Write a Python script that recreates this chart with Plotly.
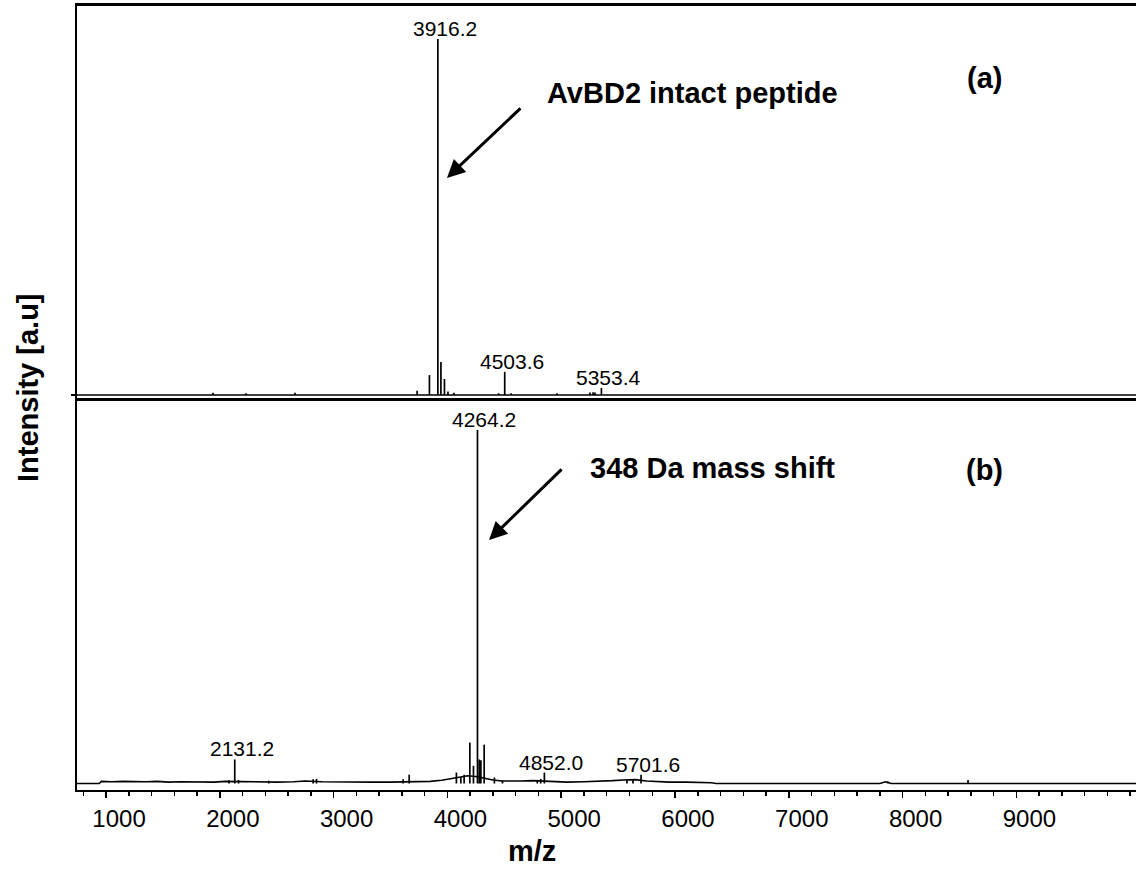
import plotly.graph_objects as go
from plotly.subplots import make_subplots

# ---------------- data ----------------
mz_range = [745, 10051]

# (a) AvBD2 intact peptide spectrum: peak list (m/z, relative intensity)
top_peak_mz = [1940, 2230, 2661, 3734, 3842, 3916.2, 3943, 3974, 4005, 4057,
               4450, 4503.6, 4560, 4963, 5253, 5280, 5297, 5353.4]
top_peak_int = [0.6, 0.5, 0.6, 1.2, 5.6, 100, 9.3, 4.5, 1.0, 0.6,
                0.5, 6.5, 0.5, 0.5, 0.7, 0.8, 0.7, 2.0]
top_base_mz = [745, 10051]
top_base_int = [0.0, 0.0]
top_labels = [3916.2, 4503.6, 5353.4]

# (b) modified peptide spectrum (348 Da shift)
bot_peak_mz = [2080, 2131.2, 2165, 2430, 2820, 2850, 3611, 3664, 4079, 4118,
               4147, 4197, 4229, 4264.2, 4279, 4294, 4323, 4413, 4484, 4790,
               4820, 4852.0, 5578, 5631, 5701.6, 7870, 8575]
bot_peak_int = [0.9, 6.8, 1.0, 0.8, 1.2, 1.3, 1.2, 2.5, 3.1, 1.8,
                2.5, 11.6, 5.0, 100, 6.8, 6.6, 11.0, 1.7, 0.8, 1.0,
                1.3, 3.1, 0.9, 1.2, 2.5, 0.6, 1.0]
bot_base_mz = [745, 940, 960, 1050, 1150, 1250, 1350, 1450, 1550, 1650,
               1750, 1850, 1950, 2050, 2200, 2350, 2500, 2650, 2750, 2900,
               3050, 3200, 3350, 3500, 3700, 3850, 3950, 4030, 4100, 4180,
               4250, 4330, 4400, 4480, 4560, 4650, 4750, 4900, 5050, 5200,
               5350, 5450, 5550, 5650, 5750, 5850, 5950, 6100, 6250, 6320,
               6360, 7800, 7850, 7900, 10051]
bot_base_int = [0.0, 0.0, 0.6, 0.5, 0.6, 0.5, 0.5, 0.6, 0.4, 0.5,
                0.4, 0.5, 0.4, 0.6, 0.5, 0.4, 0.4, 0.5, 0.7, 0.5,
                0.4, 0.3, 0.4, 0.4, 0.5, 0.6, 0.9, 1.3, 1.7, 2.2,
                2.0, 1.4, 1.0, 0.7, 0.6, 0.7, 0.8, 0.6, 0.4, 0.5,
                0.6, 0.8, 1.0, 1.1, 0.7, 0.5, 0.4, 0.4, 0.3, 0.2,
                0.0, 0.0, 0.5, 0.0, 0.0]
bot_labels = [2131.2, 4264.2, 4852.0, 5701.6]

x_tick_vals = [1000, 2000, 3000, 4000, 5000, 6000, 7000, 8000, 9000]
x_tick_text = [str(v) for v in x_tick_vals]

# ---------------- figure ----------------
FONT = "Liberation Sans, Arial, sans-serif"
fig = make_subplots(rows=2, cols=1, shared_xaxes=True, vertical_spacing=0)


def sticks(mzs, ints):
    xs, ys = [], []
    for m, h in zip(mzs, ints):
        xs += [m, m, None]
        ys += [0, h, None]
    return xs, ys


for row, bmz, bint, pmz, pint in [
    (1, top_base_mz, top_base_int, top_peak_mz, top_peak_int),
    (2, bot_base_mz, bot_base_int, bot_peak_mz, bot_peak_int),
]:
    fig.add_trace(go.Scatter(x=bmz, y=bint, mode="lines",
                             line=dict(color="black", width=1.6),
                             hoverinfo="skip", showlegend=False), row=row, col=1)
    sx, sy = sticks(pmz, pint)
    fig.add_trace(go.Scatter(x=sx, y=sy, mode="lines",
                             line=dict(color="black", width=1.7),
                             showlegend=False), row=row, col=1)

annotations = []
for xref, yref, labels, pmz, pint in [
    ("x", "y", top_labels, top_peak_mz, top_peak_int),
    ("x2", "y2", bot_labels, bot_peak_mz, bot_peak_int),
]:
    for m in labels:
        h = pint[pmz.index(m)]
        annotations.append(dict(x=m, y=h, xref=xref, yref=yref, text=f"{m:.1f}",
                                showarrow=False, xanchor="center", yanchor="bottom",
                                xshift=7, yshift=-3,
                                font=dict(family=FONT, size=21, color="black")))

# arrows
annotations.append(dict(x=3996, y=61.0, xref="x", yref="y", text="", showarrow=True,
                        ax=75, ay=-71, arrowhead=2, arrowsize=1.2, arrowwidth=3,
                        arrowcolor="black", standoff=0))
annotations.append(dict(x=4366, y=68.9, xref="x2", yref="y2", text="", showarrow=True,
                        ax=74, ay=-72, arrowhead=2, arrowsize=1.2, arrowwidth=3,
                        arrowcolor="black", standoff=0))

big = dict(family=FONT, size=29, color="black")
annotations += [
    dict(x=0.4419, y=0.889, xref="paper", yref="paper", text="<b>AvBD2 intact peptide</b>",
         showarrow=False, xanchor="left", yanchor="middle", font=big),
    dict(x=0.4825, y=0.4107, xref="paper", yref="paper", text="<b>348 Da mass shift</b>",
         showarrow=False, xanchor="left", yanchor="middle", font=big),
    dict(x=0.8565, y=0.908, xref="paper", yref="paper", text="<b>(a)</b>",
         showarrow=False, xanchor="center", yanchor="middle", font=big),
    dict(x=0.8565, y=0.408, xref="paper", yref="paper", text="<b>(b)</b>",
         showarrow=False, xanchor="center", yanchor="middle", font=big),
    dict(x=-0.0463, y=0.514, xref="paper", yref="paper", text="<b>Intensity [a.u]</b>",
         showarrow=False, textangle=-90, xanchor="center", yanchor="middle", font=big),
    dict(x=0.4297, y=-0.078, xref="paper", yref="paper", text="<b>m/z</b>",
         showarrow=False, xanchor="center", yanchor="middle", font=big),
]

fig.update_layout(
    width=1136, height=871,
    margin=dict(l=77, r=0, t=6, b=81),
    plot_bgcolor="white", paper_bgcolor="white",
    showlegend=False,
    annotations=annotations,
    font=dict(family=FONT, color="black"),
)

fig.update_xaxes(range=mz_range, showgrid=False, zeroline=False)
fig.update_xaxes(row=1, col=1, showline=True, linewidth=3, linecolor="black",
                 mirror=True, ticks="", showticklabels=False)
fig.update_xaxes(row=2, col=1, showline=True, linewidth=2, linecolor="black",
                 tickmode="array", tickvals=x_tick_vals, ticktext=x_tick_text,
                 ticks="outside", ticklen=6, tickwidth=1.5, tickcolor="black",
                 ticklabelshift=13,
                 tickfont=dict(family=FONT, size=24, color="black"),
                 minor=dict(dtick=200, tick0=0, ticks="outside", ticklen=4,
                            tickwidth=1.5, tickcolor="black"))

fig.update_yaxes(showgrid=False, zeroline=False, showticklabels=False,
                 showline=True, linewidth=2, linecolor="black")
fig.update_yaxes(row=1, col=1, range=[-0.84, 109.3], ticks="outside",
                 tickvals=[0], ticklen=4, tickwidth=1.5, tickcolor="black")
fig.update_yaxes(row=2, col=1, range=[-1.84, 109.05], ticks="")

fig.write_html("out.html",
               config={"displayModeBar": False, "staticPlot": True},
               post_script="document.body.style.margin='0px';document.body.style.overflow='hidden';")
